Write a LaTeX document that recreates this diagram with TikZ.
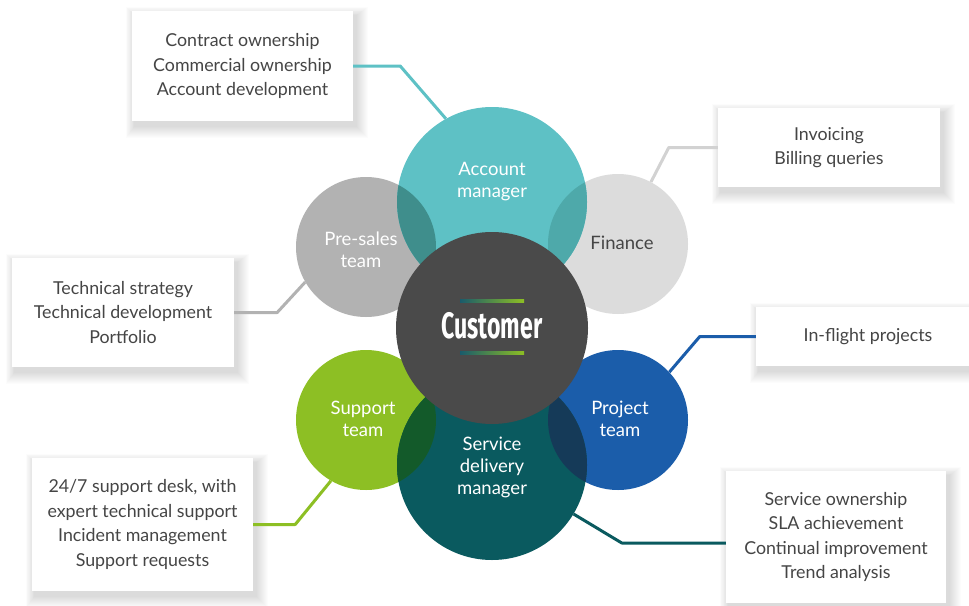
\documentclass[tikz,border=0pt]{standalone}
\usepackage{fontspec}
\setmainfont{Lato}
\newfontfamily\custfont{Fira Sans}
\usetikzlibrary{backgrounds}
\definecolor{amc}{HTML}{5EC1C5}
\definecolor{finc}{HTML}{DCDCDC}
\definecolor{finl}{HTML}{D2D2D2}
\definecolor{psc}{HTML}{B2B2B2}
\definecolor{custc}{HTML}{4A4A4A}
\definecolor{supc}{HTML}{8DBF24}
\definecolor{sdmc}{HTML}{0A5A5F}
\definecolor{prjc}{HTML}{1B5DAA}
\definecolor{ovps}{HTML}{3F8E8C}
\definecolor{ovfin}{HTML}{4EA9AA}
\definecolor{ovsup}{HTML}{135A2A}
\definecolor{ovprj}{HTML}{153A58}
\definecolor{txtc}{HTML}{454545}
\definecolor{gradA}{HTML}{1A5B6B}
\definecolor{gradB}{HTML}{8DBF24}
\begin{document}
\begin{tikzpicture}[x=1pt,y=-1pt,
  circ/.style={circle, minimum size=#1, inner sep=0pt, draw=none},
  lab/.style={text=white, align=center, font=\fontsize{18.5}{22}\selectfont},
  box/.style={inner sep=0pt, align=center, text=txtc,
    font=\fontsize{17.8}{24.5}\selectfont},
  conn/.style={line width=3pt, line join=round}]
\clip (0,0) rectangle (969,605);

% circle nodes (geometry)
\node[circ=140pt] (ps) at (366,247) {};
\node[circ=140pt] (fin) at (618,244) {};
\node[circ=140pt] (st) at (366,420) {};
\node[circ=140pt] (pt) at (618,420) {};
\node[circ=190pt] (am) at (492,202) {};
\node[circ=190pt] (sdm) at (492,465) {};
\node[circ=192pt] (cu) at (492,328) {};

% boxes
\node[box, minimum width=221pt, minimum height=110pt] (b1) at (242.5,66) {Contract ownership\\Commercial ownership\\Account development};
\node[box, minimum width=222pt, minimum height=79pt] (b2) at (829,147.5) {Invoicing\\Billing queries};
\node[box, minimum width=222pt, minimum height=109pt] (b3) at (123,312.5) {Technical strategy\\Technical development\\Portfolio};
\node[box, minimum width=224pt, minimum height=59pt] (b4) at (868,336.5) {In-flight projects};
\node[box, minimum width=221pt, minimum height=133pt] (b5) at (142.5,524.5) {24/7 support desk, with\\expert technical support\\Incident management\\Support requests};
\node[box, minimum width=220pt, minimum height=132pt] (b6) at (836,537) {Service ownership\\SLA achievement\\Continual improvement\\Trend analysis};

\begin{pgfonlayer}{background}
\fill[white] (0,0) rectangle (969,605);
\foreach \b in {b1,b2,b3,b4,b5,b6}{
  \foreach \i in {1,...,12}{
    \fill[black, opacity=0.011] ([shift={(3-0.75*\i,5+\i)}]\b.south west) rectangle ([shift={(3+\i,5-0.75*\i)}]\b.north east);
  }
  \fill[white] (\b.south west) rectangle (\b.north east);
}
\end{pgfonlayer}

% connectors
\draw[conn, amc] (b1.east) -- ++(47,0) -- (am.119);
\draw[conn, finl] (b2.west) -- ++(-49,0) -- (fin.62);
\draw[conn, psc] (b3.east) -- ++(43,0) -- (ps.210);
\draw[conn, prjc] (b4.west) -- ++(-56,0) -- (pt.43);
\draw[conn, supc] (b5.east) -- ++(42,0) -- (st.240);
\draw[conn, sdmc] ([yshift=-6pt]b6.west) -- ++(-104,0) -- (sdm.-31);

% small circles
\fill[psc] (366,247) circle[radius=70];
\fill[finc] (618,244) circle[radius=70];
\fill[supc] (366,420) circle[radius=70];
\fill[prjc] (618,420) circle[radius=70];
% large circles
\fill[amc] (492,202) circle[radius=95];
\fill[sdmc] (492,465) circle[radius=95];
% overlaps
\begin{scope}\clip (366,247) circle[radius=70]; \fill[ovps] (492,202) circle[radius=95];\end{scope}
\begin{scope}\clip (618,244) circle[radius=70]; \fill[ovfin] (492,202) circle[radius=95];\end{scope}
\begin{scope}\clip (366,420) circle[radius=70]; \fill[ovsup] (492,465) circle[radius=95];\end{scope}
\begin{scope}\clip (618,420) circle[radius=70]; \fill[ovprj] (492,465) circle[radius=95];\end{scope}
% customer
\fill[custc] (492,328) circle[radius=96];
\shade[left color=gradA, right color=gradB] (460,299.8) rectangle (524,302.3);
\shade[left color=gradA, right color=gradB] (460,351.8) rectangle (524,354.3);

% labels
\node[lab] (lam) at (492,182) {Account\\manager};
\node[lab] (lps) at (361,250) {Pre-sales\\team};
\node[lab, text=txtc] (lfin) at (622,243) {Finance};
\node[lab] (lst) at (363,419) {Support\\team};
\node[lab] (lpt) at (620,419) {Project\\team};
\node[lab] (lsdm) at (492,467) {Service\\delivery\\manager};
\node[text=white, inner sep=0pt] (lcu) at (492,326) {\scalebox{0.66}[1.05]{\custfont\bfseries\fontsize{35}{35}\selectfont Customer}};
\end{tikzpicture}
\end{document}
